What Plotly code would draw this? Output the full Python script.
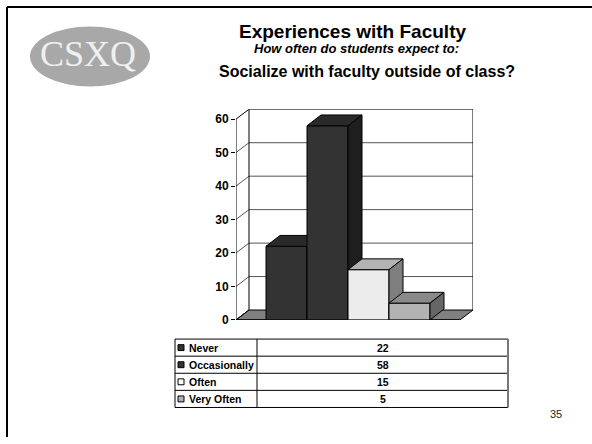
import plotly.graph_objects as go

# ---------------- data ----------------
categories = ["Never", "Occasionally", "Often", "Very Often"]
values = [22, 58, 15, 5]
front_colors = ["#333333", "#333333", "#ececec", "#b3b3b3"]
top_colors = ["#2a2a2a", "#2a2a2a", "#b3b3b3", "#8a8a8a"]
side_colors = ["#1e1e1e", "#1e1e1e", "#7f7f7f", "#666666"]
key_colors = ["#333333", "#333333", "#ffffff", "#b3b3b3"]
y_ticks = [0, 10, 20, 30, 40, 50, 60]
title = "Experiences with Faculty"
subtitle = "How often do students expect to:"
question = "Socialize with faculty outside of class?"
page_number = "35"

# ---------------- geometry ----------------
W, H = 592, 444
L, R, T, B = 236, 473, 111, 325          # plot area in px
UX = 41.0                                 # px per category
UY = 3.4                                  # px per unit
WALL_DX, WALL_DY = 13 / UX, 10 / UY       # depth of walls (data units)
BAR_DX, BAR_DY = 14 / UX, 11 / UY         # depth of bars (data units)
x0 = -0.5 - 30 / UX
x1 = x0 + (R - L) / UX
xf = x1 - WALL_DX                         # right end of the front edge
ymax = max(y_ticks)
ytop = ymax + WALL_DY


def px(x):
    return x / W


def py(y):
    return 1 - y / H


FONT = "Liberation Sans, Arial, sans-serif"
fig = go.Figure()


def poly(xs, ys, fill, line="black", width=1):
    fig.add_trace(go.Scatter(
        x=xs + [xs[0]], y=ys + [ys[0]], mode="lines", fill="toself",
        fillcolor=fill, line=dict(color=line, width=width),
        hoverinfo="skip", showlegend=False))


def seg(xs, ys, color="black", width=1):
    fig.add_trace(go.Scatter(
        x=xs, y=ys, mode="lines", line=dict(color=color, width=width),
        hoverinfo="skip", showlegend=False))


# floor
poly([x0, xf, x1, x0 + WALL_DX], [0, 0, WALL_DY, WALL_DY], "#808080")

# back wall gridlines and side-wall diagonals
for v in y_ticks[1:-1]:
    seg([x0 + WALL_DX, x1], [v + WALL_DY, v + WALL_DY], "#555555")
    seg([x0, x0 + WALL_DX], [v, v + WALL_DY], "#555555")
# wall outlines
seg([x0 + WALL_DX, x1, x1], [ytop, ytop, WALL_DY], "black")
seg([x0 + WALL_DX, x0 + WALL_DX], [WALL_DY, ytop], "black")
seg([x0, x0 + WALL_DX], [ymax, ytop], "black")
seg([x0, x0 + WALL_DX], [0, WALL_DY], "black")
seg([x0, x0], [0, ymax], "black")
seg([x0, xf], [0, 0], "black")
seg([xf, xf], [0, -4 / UY], "black")

# bars (front, top, side), drawn left to right
for i, v in enumerate(values):
    a, b = i - 0.5, i + 0.5
    poly([a, b, b, a], [0, 0, v, v], front_colors[i])
    poly([a, b, b + BAR_DX, a + BAR_DX], [v, v, v + BAR_DY, v + BAR_DY], top_colors[i])
    poly([b, b + BAR_DX, b + BAR_DX, b], [0, BAR_DY, v + BAR_DY, v], side_colors[i])

fig.update_xaxes(range=[x0, x1], domain=[px(L), px(R)], visible=False, fixedrange=True)
fig.update_yaxes(range=[0, ytop], domain=[py(B), py(T)], showgrid=False,
                 zeroline=False, showline=False, ticks="outside", ticklen=4,
                 tickcolor="black", tickvals=y_ticks,
                 ticktext=[f"<b>{t}</b>" for t in y_ticks],
                 tickfont=dict(family=FONT, size=12, color="black"), fixedrange=True)

shapes = []
ann = []


def text(x, y, s, size, family=FONT, color="black", xanchor="center"):
    ann.append(dict(x=px(x), y=py(y), xref="paper", yref="paper", text=s, showarrow=False,
                    xanchor=xanchor, yanchor="middle",
                    font=dict(family=family, size=size, color=color)))


# slide frame (top and left)
shapes.append(dict(type="line", xref="paper", yref="paper", x0=px(7), x1=px(W), y0=py(7), y1=py(7),
                   line=dict(color="black", width=2)))
shapes.append(dict(type="line", xref="paper", yref="paper", x0=px(7), x1=px(7), y0=py(7), y1=0,
                   line=dict(color="black", width=2)))

# logo
shapes.append(dict(type="circle", xref="paper", yref="paper", x0=px(30), x1=px(150), y0=py(27), y1=py(88),
                   fillcolor="#a8a8a8", line=dict(width=0)))
text(88, 55, "CSXQ", 36, family="Liberation Serif, serif", color="#f0f0f0")

# titles
text(237, 31.5, f"<b>{title}</b>", 19, xanchor="left")
text(252, 49, f"<b><i>{subtitle}</i></b>", 13, xanchor="left")
text(217, 73, f"<b>{question}</b>", 16, xanchor="left")

# data table
TL, TR, TT, TB, TC = 175, 508, 344.5, 414, 257
row_h = (TB - TT) / len(categories)
for k in range(len(categories) + 1):
    yy = TT + k * row_h
    shapes.append(dict(type="line", xref="paper", yref="paper", x0=px(TL), x1=px(TR), y0=py(yy), y1=py(yy),
                       line=dict(color="black", width=1)))
shapes.append(dict(type="line", xref="paper", yref="paper", x0=px(TL), x1=px(TL), y0=py(TT), y1=py(TB),
                   line=dict(color="black", width=1)))
shapes.append(dict(type="line", xref="paper", yref="paper", x0=px(TC), x1=px(TC), y0=py(TT), y1=py(TB),
                   line=dict(color="black", width=1)))
shapes.append(dict(type="line", xref="paper", yref="paper", x0=px(TR), x1=px(TR), y0=py(TT), y1=py(TB),
                   line=dict(color="#777777", width=2)))
for k, (c, v) in enumerate(zip(categories, values)):
    yc = TT + (k + 0.5) * row_h
    shapes.append(dict(type="rect", xref="paper", yref="paper", x0=px(178), x1=px(184),
                       y0=py(yc - 3), y1=py(yc + 3), fillcolor=key_colors[k],
                       line=dict(color="black", width=1)))
    text(187, yc, f"<b>{c}</b>", 10.5, xanchor="left")
    text((TC + TR) / 2, yc, f"<b>{v}</b>", 10.5)

# page number
text(556, 421, page_number, 11, color="#222222")

fig.update_layout(width=W, height=H, margin=dict(l=0, r=0, t=0, b=0),
                  paper_bgcolor="white", plot_bgcolor="white",
                  shapes=shapes, annotations=ann, showlegend=False)

fig.write_html(
    "out.html",
    config={"displayModeBar": False},
    post_script=(
        "document.documentElement.style.margin='0';"
        "document.body.style.margin='0';"
    ),
)
